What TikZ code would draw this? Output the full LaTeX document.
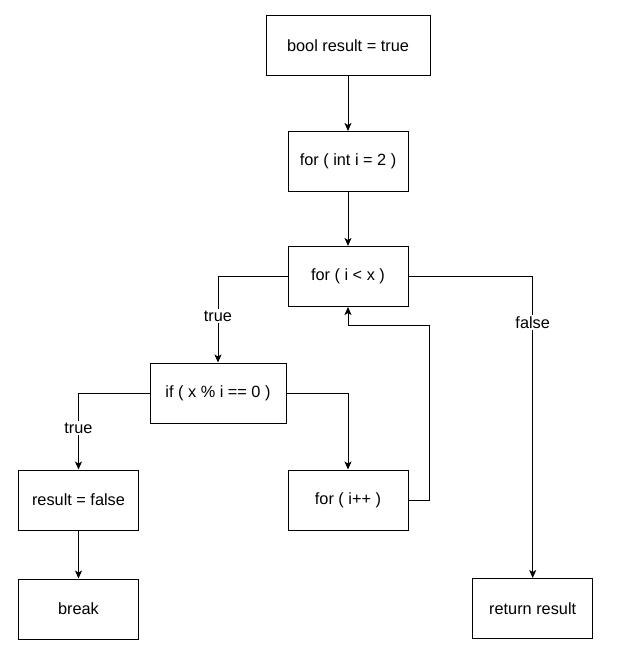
\documentclass[tikz,border=0pt]{standalone}
\usepackage{fontspec}
\setmainfont{Liberation Sans}
\usetikzlibrary{arrows.meta}
\begin{document}
\begin{tikzpicture}[x=1pt,y=-1pt,
  every node/.style={font=\fontsize{16.3}{19}\selectfont},
  stepbox/.style={draw=black,line width=1pt,fill=white,minimum width=120pt,minimum height=60pt,inner sep=0pt},
  flow/.style={draw=black,line width=1pt,-{Stealth[length=8pt,width=7pt,inset=2pt]}},
  edgelabel/.style={fill=white,inner sep=1.5pt}]
\useasboundingbox (0,0) rectangle (639,660);

% statements
\node[stepbox,minimum width=164pt] (init)  at (348,46)    {bool result = true};
\node[stepbox]                     (start) at (348,161.5) {for ( int i = 2 )};
\node[stepbox]                     (cond)  at (348,276.5) {for ( i < x )};
\node[stepbox,minimum width=136pt] (test)  at (218,393)   {if ( x \% i == 0 )};
\node[stepbox]                     (setf)  at (78.5,500)  {result = false};
\node[stepbox]                     (incr)  at (348,500)   {for ( i++ )};
\node[stepbox]                     (brk)   at (78.5,609)  {break};
\node[stepbox]                     (ret)   at (532.7,608.5) {return result};

% loop-back corner
\coordinate (back) at (429,325);

% control flow
\draw[flow] (init) -- (start);
\draw[flow] (start) -- (cond);
\draw[flow] (cond.west) -| node[edgelabel,pos=0.73] {true} (test.north);
\draw[flow] (cond.east) -| node[edgelabel,pos=0.577] {false} (ret.north);
\draw[flow] (test.west) -| node[edgelabel,pos=0.73] {true} (setf.north);
\draw[flow] (test.east) -| (incr.north);
\draw[flow] (incr.east) -| (back) -| (cond.south);
\draw[flow] (setf) -- (brk);
\end{tikzpicture}
\end{document}
